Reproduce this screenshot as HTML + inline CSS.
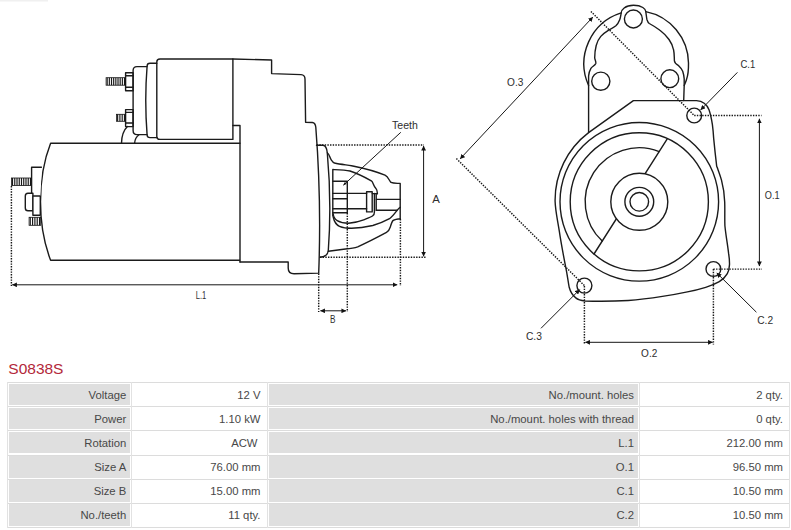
<!DOCTYPE html>
<html><head><meta charset="utf-8"><title>S0838S</title>
<style>
html,body{margin:0;padding:0;background:#fff;}
body{width:791px;height:530px;position:relative;overflow:hidden;font-family:"Liberation Sans",sans-serif;}
#ttl{position:absolute;left:8.3px;top:359.2px;font-size:15.5px;line-height:20px;color:#b3283a;}
.c{position:absolute;text-align:right;font-size:11.3px;color:#484848;white-space:nowrap;overflow:hidden}
.l{background:#dfdfdf}
.v{background:#fff}
.hl{position:absolute;left:7.3px;width:782.3px;height:1px;background:#dcdcdc}
.vl{position:absolute;top:382px;height:146px;width:1px;background:#e2e2e2}
</style></head><body>

<svg width="791" height="380" viewBox="0 0 791 380" style="position:absolute;left:0;top:0">
<defs>
<marker id="ah" viewBox="0 0 10 10" refX="9.5" refY="5" markerWidth="5" markerHeight="4.8" markerUnits="userSpaceOnUse" orient="auto-start-reverse"><path d="M0,0 L10,5 L0,10 z" fill="#111"/></marker>
<marker id="ahs" viewBox="0 0 10 10" refX="9.5" refY="5" markerWidth="4.2" markerHeight="3.4" markerUnits="userSpaceOnUse" orient="auto-start-reverse"><path d="M0,1 L10,5 L0,9 z" fill="#111"/></marker>
</defs>
<rect x="0" y="0" width="48" height="1.5" fill="#f0f0f0"/>
<g fill="none" stroke="#1b1b1b" stroke-width="1.4" stroke-linejoin="round" stroke-linecap="round">
<!-- ===== LEFT FIGURE ===== -->
<!-- motor body -->
<path d="M240,143.2 H50.6 C44,160 40.5,180 40.5,201.7 C40.5,223 44,243 50.6,260.3 H239.7"/>
<path d="M232.9,125.5 H240 V262"/>
<!-- solenoid -->
<path d="M232.9,139.4 H160 Q156.8,139.4 156.8,136.4 V62 Q156.8,59 160,59 H232.9 Z"/>
<path d="M156.8,63.3 H150 Q147.2,63.3 147.1,66 Q144.4,100 147.1,135 Q147.2,137.6 150,137.6 H156.8"/>
<path d="M147,66.6 H137 Q133.1,66.6 133.1,70.6 V130.5 Q133.1,134.6 137,134.6 H147"/>
<!-- nuts -->
<rect x="125.6" y="72.8" width="7.5" height="18"/>
<path d="M125.6,75.7 H133.1 M125.6,87.3 H133.1"/>
<rect x="125.6" y="109.6" width="7.5" height="17"/>
<path d="M125.6,112.4 H133.1 M125.6,123 H133.1"/>
<path d="M127.4,126.6 Q121.8,132 121.5,143.2"/>
<path d="M139,134.7 Q135,137.5 134.6,143.2"/>
<!-- housing -->
<path d="M232.9,59 L271.6,60 V73.6 L301,74.6 Q305,74.8 305,79 L305.6,122.2 L312.3,122.5 Q315.4,122.8 315.8,127.2 Q321.5,200 318.7,273.1 L294,273.8 Q288.2,273.8 288.2,268 V262 H240"/>
<!-- nose flange -->
<path d="M316.5,145.2 H323 Q326.6,145.6 327.3,152.8 Q331.8,203 328.3,250.5 Q327.5,256.8 320,257.3"/>
<!-- nose outer upper -->
<path d="M327.3,152.8 C329.6,154.5 329.6,157.5 331.1,159.6 C332,161 332.6,162.3 334.5,163 C340,164.3 346,164.8 351.6,165.7 C363,168 376,171.3 385,175.2 C388.5,177 389,180.5 391,182.4 C393.5,183.6 397,183.2 400.2,183.4 V218.7"/>
<!-- nose outer lower -->
<path d="M400.2,218.7 C396.5,219.3 393.8,219.3 392.6,221 C391.3,223 391,225 390.3,227 C389.5,229.5 388.5,231.3 386.5,232.4 C377,237.5 367,242.7 357.7,246.8 C353.5,248.2 349.5,248.6 345.5,249 L328.4,251.3"/>
<!-- inner vertical + upper inner curve -->
<path d="M332.8,216 V169.5 C339,169.8 345,170 350,171 C357.5,173.5 365,177.3 371.3,180.8 C373.5,182.6 373,185.5 375.9,188.4 C377.3,190 377.3,192 377.4,193.7"/>
<!-- inner bowl -->
<path d="M333.2,214 C333.6,217.5 335,219.3 337.2,220.6 C340.5,222.5 344.5,223.2 348.6,223.2 C354,222.8 359,221.6 363.7,219.8 C367,218.5 370.5,217.3 372.8,215.7 C374.3,214.8 374.4,213.5 374.4,212 V193.5"/>
<!-- middle bowl -->
<path d="M333.2,217 C334.3,222 336.5,225 339.5,226.3 C343,227.8 347.5,228.3 351.6,228.3 C359,228.1 366,227 372.8,225.5 C378.5,223.8 384.5,221.5 389.5,218.7 C392.5,216.5 395,213 397.1,210.3 C398,209 399,207.8 400.2,207.3"/>
<!-- pinion teeth -->
<path d="M332.8,181.2 H347.3 M332.8,193.4 H347.3 M332.8,198.8 H347.3 M332.8,208.8 H347.3 M332.8,212.8 H347.3 M347.3,181.2 V212.8"/>
<!-- shaft -->
<path d="M347.3,193.4 H366.6 M347.3,208.8 H366.6"/>
<rect x="366.6" y="191.7" width="5.6" height="20.2"/>
<path d="M372.2,193.6 H377.3 M376,199.4 H400.2 M376,210.3 H397 M376.2,193.7 V210.3"/>
</g>
<!-- threads -->
<g fill="none" stroke="#161616" stroke-width="1.15">
<rect x="106.1" y="77.7" width="19.5" height="7.5" stroke-width="0.8"/><line x1="107.18" y1="77.7" x2="107.18" y2="85.2"/><line x1="109.35" y1="77.7" x2="109.35" y2="85.2"/><line x1="111.52" y1="77.7" x2="111.52" y2="85.2"/><line x1="113.68" y1="77.7" x2="113.68" y2="85.2"/><line x1="115.85" y1="77.7" x2="115.85" y2="85.2"/><line x1="118.02" y1="77.7" x2="118.02" y2="85.2"/><line x1="120.18" y1="77.7" x2="120.18" y2="85.2"/><line x1="122.35" y1="77.7" x2="122.35" y2="85.2"/><line x1="124.52" y1="77.7" x2="124.52" y2="85.2"/>
<rect x="116.5" y="114.3" width="9.1" height="7" stroke-width="0.8"/><line x1="117.64" y1="114.3" x2="117.64" y2="121.3"/><line x1="119.91" y1="114.3" x2="119.91" y2="121.3"/><line x1="122.19" y1="114.3" x2="122.19" y2="121.3"/><line x1="124.46" y1="114.3" x2="124.46" y2="121.3"/>
<rect x="11.4" y="178" width="20.2" height="7.5" stroke-width="0.8"/><line x1="12.52" y1="178" x2="12.52" y2="185.5"/><line x1="14.77" y1="178" x2="14.77" y2="185.5"/><line x1="17.01" y1="178" x2="17.01" y2="185.5"/><line x1="19.26" y1="178" x2="19.26" y2="185.5"/><line x1="21.50" y1="178" x2="21.50" y2="185.5"/><line x1="23.74" y1="178" x2="23.74" y2="185.5"/><line x1="25.99" y1="178" x2="25.99" y2="185.5"/><line x1="28.23" y1="178" x2="28.23" y2="185.5"/><line x1="30.48" y1="178" x2="30.48" y2="185.5"/>
<rect x="29.1" y="217.3" width="11.6" height="8" stroke-width="0.8"/><line x1="30.26" y1="217.3" x2="30.26" y2="225.3"/><line x1="32.58" y1="217.3" x2="32.58" y2="225.3"/><line x1="34.90" y1="217.3" x2="34.90" y2="225.3"/><line x1="37.22" y1="217.3" x2="37.22" y2="225.3"/><line x1="39.54" y1="217.3" x2="39.54" y2="225.3"/>
</g>
<g fill="#fff" stroke="#1b1b1b" stroke-width="1.4" stroke-linejoin="round">
<!-- left terminal -->
<path d="M41.9,167.3 H31.6 V196.1 H40.4"/>
<path d="M32.9,193.2 H28 Q25.3,193.2 25.3,196 V208 Q25.3,210.8 28,210.8 H32.9 Z"/>
<path d="M40.4,196.1 H32.9 V215.3 H40.6" /><path d="M40.3,196.1 V215.3" fill="none"/>
</g>
<!-- dotted -->
<g fill="none" stroke="#161616" stroke-width="1.45" stroke-dasharray="1.4 1.27">
<path d="M11.4,186 V286"/>
<path d="M316.7,145 H424"/>
<path d="M320,257.3 H426"/>
<path d="M318.7,273.5 V312"/>
<path d="M347.3,213 V312"/>
<path d="M400.4,219 V286"/>
<!-- right fig -->
<path d="M590.9,11.4 L694.2,115.5"/>
<path d="M456.4,158.6 L584.4,285.6"/>
<path d="M694.2,115.5 H761.5"/>
<path d="M713.4,269.1 H762"/>
<path d="M584.4,286 V344.5"/>
<path d="M713.4,269.1 V344.5"/>
</g>
<!-- dimension lines -->
<g fill="none" stroke="#161616" stroke-width="1">
<path d="M12.3,284.8 H397.2" marker-start="url(#ah)" marker-end="url(#ah)"/>
<path d="M320.4,310.8 H346" marker-start="url(#ah)" marker-end="url(#ah)"/>
<path d="M423.6,146 V256.3" marker-start="url(#ah)" marker-end="url(#ah)"/>
<path d="M400.8,132.3 L343.4,185.2" marker-end="url(#ahs)"/>
<path d="M460.2,158.8 L592.8,17.1" marker-start="url(#ah)" marker-end="url(#ah)"/>
<path d="M759.4,118.8 V266.1" marker-start="url(#ah)" marker-end="url(#ah)"/>
<path d="M585.4,342.3 H712.6" marker-start="url(#ah)" marker-end="url(#ah)"/>
<path d="M737.4,72.4 L700.7,109.9" marker-end="url(#ah)"/>
<path d="M756.4,312.2 L716.8,273" marker-end="url(#ah)"/>
<path d="M541,328.3 L579.7,289.6" marker-end="url(#ah)"/>
</g>
<!-- ===== RIGHT FIGURE ===== -->
<g fill="none" stroke="#1b1b1b" stroke-width="1.4" stroke-linejoin="round" stroke-linecap="round">
<!-- solenoid end outer -->
<path d="M588.6,132.6 V85.5 A53.3,53.3 0 0 1 621.2,12.9 C621.2,10 625,5.3 633.5,5.3 C642,5.3 645.8,9 645.8,11.6 A53.2,53.2 0 0 1 688.5,63 C688.6,70 687.8,76 686.5,79.5 C685.8,82 684.8,84 684.2,85.5 L683.7,100.6"/>
<!-- inner contour -->
<path d="M621.2,12.9 C620.8,15.5 620.5,17.8 619.7,19.7 C618.8,22 617.6,24.2 615.9,25.8 C613.7,27.6 611,29 608.3,30.3 C605.5,32 603,34 600.8,36.4 C598.6,39 597,42 596.2,45.5 C595.2,49.5 594.7,53.5 594.7,57.7 C594.8,59.8 596.3,61.5 595.8,63.5 C595,65.5 592.2,66.5 590.9,68.3 C589.6,70.5 588.9,73 588.6,75.9 V85.5"/>
<path d="M645.8,11.6 C646.3,15 646.5,18 647,19.7 C647.6,21.5 648.3,22.8 649.3,23.5 C653,25.5 657,28 659.9,30.3 C663.5,33 666.5,36 669,39.5 C671.5,43 673,46.5 673.6,50 C674.4,53.5 674.2,57 674.4,60.7 C674.6,63 676.5,64.3 678.2,65.3 C680,67 681.6,69 682.7,71.3 C683.6,74 684,76.5 684.2,78.9 V85.5"/>
<circle cx="633.4" cy="19" r="9"/>
<circle cx="600.8" cy="81.2" r="9.1"/>
<circle cx="669.8" cy="78.7" r="8.9"/>
<!-- flange -->
<path d="M588.6,132.6 L633.4,100.6 H696.5 C703,100.9 707,104.5 709,109.8 C710.5,114 711.5,119 712.4,124.6 C713,129 713.4,134 713.7,138.6 C714.6,148 715.6,157 716.7,166.3 L717.6,168.4 C719,172.5 720.4,176 721.5,180.1 C723.3,187 724.5,194 724.7,201.9 C725,210 724.6,218 724.9,225.7 C725.8,235 727.5,244 728.6,253.4 C729.2,257 729.6,260.5 729.5,264.6 C729.3,268.5 728.6,271.5 727.3,273.7 C725.5,277 722.8,279.6 719.3,281.6 C715,284 710.5,285.8 705.7,287.3 C699.5,289.2 693.5,290.7 687.4,291.9 C679,293.7 671,295.2 662.4,296.4 C651,298.2 640,299.7 628.3,300.5 C614,301.3 599,301.4 585,301 C581,300.6 578,299.8 575.8,297.9 C572,295 570.3,291.5 569.2,287.3 C568,281 567.3,275 566.1,269.1 C564.5,261 560.6,240 559.3,231.2 C557.6,220 555.4,211 555.1,201.2 A84.8,84.8 0 0 1 588.6,132.6"/>
<circle cx="639.3" cy="201.8" r="79.3"/>
<circle cx="639.3" cy="201.8" r="69.1"/>
<path d="M667.4,138.7 L594,254"/>
<path d="M659.2,151.6 A54,54 0 0 0 602.2,241.1"/>
<circle cx="639.3" cy="201.8" r="28.5" fill="#fff"/>
<circle cx="639.3" cy="201.8" r="14.4"/>
<circle cx="639.3" cy="201.8" r="9.3"/>
<circle cx="694.2" cy="115.5" r="7.4"/>
<circle cx="713.4" cy="269" r="7.4"/>
<circle cx="584.4" cy="285.6" r="7.5"/>
</g>
<g font-family="Liberation Sans, sans-serif" font-size="10.6" fill="#2e2e2e">
<text x="392.1" y="128.6" textLength="25.8" lengthAdjust="spacingAndGlyphs">Teeth</text>
<text x="432.3" y="203.3" textLength="7.6" lengthAdjust="spacingAndGlyphs">A</text>
<text x="195.8" y="299" textLength="10.5" lengthAdjust="spacingAndGlyphs">L.1</text>
<text x="329.9" y="323.2" textLength="5.5" lengthAdjust="spacingAndGlyphs">B</text>
<text x="507.1" y="85.9" textLength="16.3" lengthAdjust="spacingAndGlyphs">O.3</text>
<text x="740.5" y="67.8" textLength="14.8" lengthAdjust="spacingAndGlyphs">C.1</text>
<text x="764.8" y="199.3" textLength="14.8" lengthAdjust="spacingAndGlyphs">O.1</text>
<text x="757.2" y="323.6" textLength="15.9" lengthAdjust="spacingAndGlyphs">C.2</text>
<text x="525.9" y="340.1" textLength="16.0" lengthAdjust="spacingAndGlyphs">C.3</text>
<text x="641.1" y="356.7" textLength="16.2" lengthAdjust="spacingAndGlyphs">O.2</text>
</g>
</svg>

<div id="ttl">S0838S</div>
<div class="hl" style="top:382.00px"></div><div class="hl" style="top:406.17px"></div><div class="hl" style="top:430.34px"></div><div class="hl" style="top:454.51px"></div><div class="hl" style="top:478.68px"></div><div class="hl" style="top:502.85px"></div><div class="hl" style="top:527.02px"></div><div class="vl" style="left:7.3px"></div><div class="vl" style="left:131.3px"></div><div class="vl" style="left:266.8px"></div><div class="vl" style="left:638.8px"></div><div class="vl" style="left:788.6px"></div>
<div class="c l" style="left:8.8px;top:383.50px;width:117.50000000000001px;height:21.67px;line-height:23.07px;padding-right:4.0px">Voltage</div>
<div class="c v" style="left:133px;top:383.50px;width:127.5px;height:21.67px;line-height:23.07px;padding-right:5.5px">12 V</div>
<div class="c l" style="left:268.5px;top:383.50px;width:365.5px;height:21.67px;line-height:23.07px;padding-right:4.0px">No./mount. holes</div>
<div class="c v" style="left:640.5px;top:383.50px;width:142.5px;height:21.67px;line-height:23.07px;padding-right:5.0px">2 qty.</div>
<div class="c l" style="left:8.8px;top:407.67px;width:117.50000000000001px;height:21.67px;line-height:23.07px;padding-right:4.0px">Power</div>
<div class="c v" style="left:133px;top:407.67px;width:127.5px;height:21.67px;line-height:23.07px;padding-right:5.5px">1.10 kW</div>
<div class="c l" style="left:268.5px;top:407.67px;width:365.5px;height:21.67px;line-height:23.07px;padding-right:4.0px">No./mount. holes with thread</div>
<div class="c v" style="left:640.5px;top:407.67px;width:142.5px;height:21.67px;line-height:23.07px;padding-right:5.0px">0 qty.</div>
<div class="c l" style="left:8.8px;top:431.84px;width:117.50000000000001px;height:21.67px;line-height:23.07px;padding-right:4.0px">Rotation</div>
<div class="c v" style="left:133px;top:431.84px;width:124.5px;height:21.67px;line-height:23.07px;padding-right:8.5px">ACW</div>
<div class="c l" style="left:268.5px;top:431.84px;width:365.5px;height:21.67px;line-height:23.07px;padding-right:4.0px">L.1</div>
<div class="c v" style="left:640.5px;top:431.84px;width:142.5px;height:21.67px;line-height:23.07px;padding-right:5.0px">212.00 mm</div>
<div class="c l" style="left:8.8px;top:456.01px;width:117.50000000000001px;height:21.67px;line-height:23.07px;padding-right:4.0px">Size A</div>
<div class="c v" style="left:133px;top:456.01px;width:127.5px;height:21.67px;line-height:23.07px;padding-right:5.5px">76.00 mm</div>
<div class="c l" style="left:268.5px;top:456.01px;width:365.5px;height:21.67px;line-height:23.07px;padding-right:4.0px">O.1</div>
<div class="c v" style="left:640.5px;top:456.01px;width:142.5px;height:21.67px;line-height:23.07px;padding-right:5.0px">96.50 mm</div>
<div class="c l" style="left:8.8px;top:480.18px;width:117.50000000000001px;height:21.67px;line-height:23.07px;padding-right:4.0px">Size B</div>
<div class="c v" style="left:133px;top:480.18px;width:127.5px;height:21.67px;line-height:23.07px;padding-right:5.5px">15.00 mm</div>
<div class="c l" style="left:268.5px;top:480.18px;width:365.5px;height:21.67px;line-height:23.07px;padding-right:4.0px">C.1</div>
<div class="c v" style="left:640.5px;top:480.18px;width:142.5px;height:21.67px;line-height:23.07px;padding-right:5.0px">10.50 mm</div>
<div class="c l" style="left:8.8px;top:504.35px;width:117.50000000000001px;height:21.67px;line-height:23.07px;padding-right:4.0px">No./teeth</div>
<div class="c v" style="left:133px;top:504.35px;width:127.5px;height:21.67px;line-height:23.07px;padding-right:5.5px">11 qty.</div>
<div class="c l" style="left:268.5px;top:504.35px;width:365.5px;height:21.67px;line-height:23.07px;padding-right:4.0px">C.2</div>
<div class="c v" style="left:640.5px;top:504.35px;width:142.5px;height:21.67px;line-height:23.07px;padding-right:5.0px">10.50 mm</div>

</body></html>
